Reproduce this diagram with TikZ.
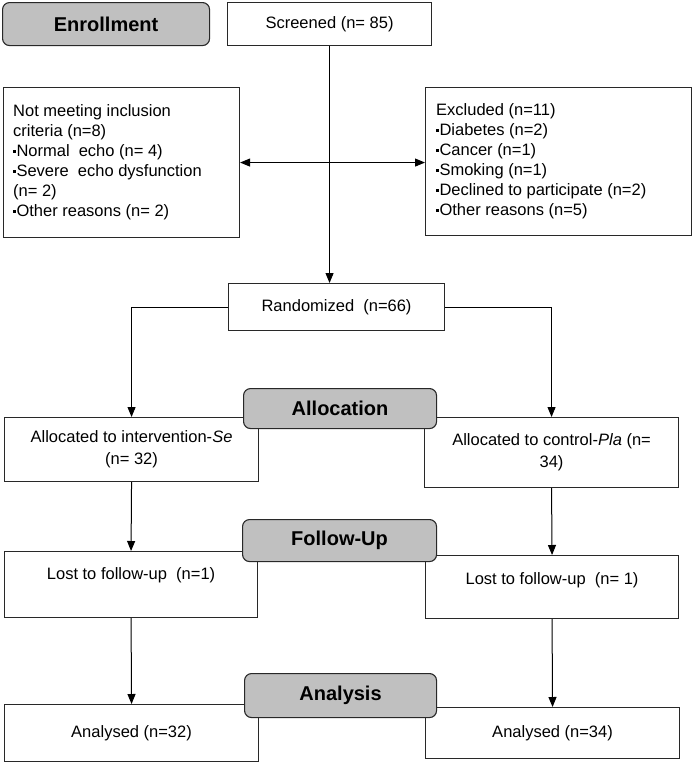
\documentclass[tikz,border=0pt]{standalone}
\usepackage{fontspec}
\setmainfont{Liberation Sans}
\usetikzlibrary{arrows.meta}
\definecolor{phasegray}{RGB}{192,192,192}
\definecolor{edgegray}{RGB}{40,40,40}
\newcommand{\mybul}{\raisebox{4pt}{\rule{2.8pt}{3.2pt}}\hspace{0.5pt}}
\begin{document}
\begin{tikzpicture}[x=1pt,y=-1pt,
  box/.style={draw=edgegray,line width=1.1pt,fill=white,anchor=north west,inner sep=0pt,
    font=\fontsize{16.5}{20}\selectfont,align=center},
  phase/.style={draw=edgegray,line width=1.1pt,fill=phasegray,rounded corners=7pt,
    anchor=north west,inner sep=0pt,font=\fontsize{20}{24}\selectfont\bfseries},
  txt/.style={font=\fontsize{16.5}{20}\selectfont,inner sep=0pt},
  arr/.style={line width=1pt,-{Triangle[length=10pt,width=8pt]}},
  ln/.style={line width=1pt}]
\useasboundingbox (0,0) rectangle (694,764);

% Enrollment
\node[phase,minimum width=207pt,minimum height=43pt] (enr) at (2,2) {Enrollment};
\node[box,minimum width=204pt,minimum height=43pt] (scr) at (227,2) {Screened (n= 85)};

\node[box,minimum width=236pt,minimum height=150pt] (notm) at (3,87) {};
\node[txt,align=left,anchor=west] (notmt) at ([xshift=10pt]notm.west)
  {Not meeting inclusion\\criteria (n=8)\\\mybul Normal\ \ echo (n= 4)\\\mybul Severe\ \ echo dysfunction\\(n= 2)\\\mybul Other reasons (n= 2)};

\node[box,minimum width=266pt,minimum height=148pt] (excl) at (425,87) {};
\node[txt,align=left,anchor=west] (exclt) at ([xshift=11pt]excl.west)
  {Excluded (n=11)\\\mybul Diabetes (n=2)\\\mybul Cancer (n=1)\\\mybul Smoking (n=1)\\\mybul Declined to participate (n=2)\\\mybul Other reasons (n=5)};

\node[box,minimum width=216pt,minimum height=47pt] (rand) at (228,283) {Randomized\ \ (n=66)};

% Allocation
\node[box,minimum width=254pt,minimum height=64pt] (alloL) at (4,417)
  {Allocated to intervention-\textit{Se}\\[2pt](n= 32)};
\node[box,minimum width=254pt,minimum height=70pt] (alloR) at (424,417)
  {Allocated to control-\textit{Pla} (n=\\[2pt]34)};

% Follow-up
\node[box,minimum width=253pt,minimum height=66pt] (lostL) at (4,551) {};
\node[txt] (lostLt) at ([yshift=-24pt]lostL.north) {Lost to follow-up\ \ (n=1)};
\node[box,minimum width=253pt,minimum height=63pt] (lostR) at (425,555) {};
\node[txt] (lostRt) at ([yshift=-25pt]lostR.north) {Lost to follow-up\ \ (n= 1)};

% Analysis
\node[box,minimum width=254pt,minimum height=57pt] (anL) at (4,704) {Analysed (n=32)};
\node[box,minimum width=254pt,minimum height=51pt] (anR) at (425,707) {Analysed (n=34)};

% connectors
\draw[arr] (scr.south) -- (scr.south |- rand.north);
\draw[ln,{Triangle[length=10pt,width=8pt]}-{Triangle[length=10pt,width=8pt]}] (notm.east) -- (notm.east -| excl.west);
\draw[arr] (rand.west) -| (alloL.north);
\draw[arr] (rand.east) -| (alloR.north);
\draw[arr] (alloL.south) -- (lostL.north);
\draw[arr] (alloR.south) -- (lostR.north);
\draw[arr] (lostL.south) -- (anL.north);
\draw[arr] (lostR.south) -- (anR.north);

% phase labels on top
\node[phase,minimum width=193pt,minimum height=40pt] (alloc) at (243,388) {Allocation};
\node[phase,minimum width=194pt,minimum height=42pt] (fup) at (242,519) {Follow-Up};
\node[phase,minimum width=192pt,minimum height=44pt] (anal) at (244,673) {Analysis};
\end{tikzpicture}
\end{document}
